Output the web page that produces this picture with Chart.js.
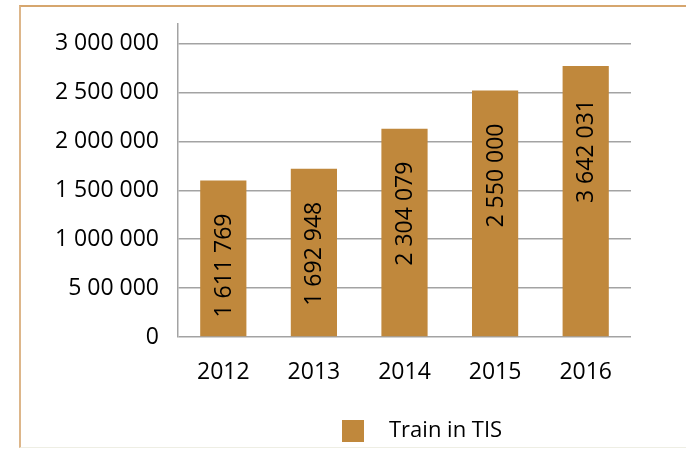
<!DOCTYPE html>
<html>
<head>
<meta charset="utf-8">
<script src="https://cdn.jsdelivr.net/npm/chart.js@4/dist/chart.umd.min.js"></script>
<style>
  html, body { margin: 0; padding: 0; background: #fff; }
  #wrap { position: relative; width: 686px; height: 449px; overflow: hidden; }
  #frame {
    position: absolute; left: 19px; top: 5px; width: 700px; height: 443px;
    box-sizing: border-box;
    border-top: 2px solid #D6A66E;
    border-left: 2px solid #DDB68A;
    border-bottom: 1px solid #EEEEE4;
  }
  #chart { position: absolute; left: 0; top: 0; }
</style>
</head>
<body>
<div id="wrap">
  <div id="frame"></div>
  <canvas id="chart" width="686" height="449"></canvas>
</div>
<script>
const years = ['2012', '2013', '2014', '2015', '2016'];
// bar heights as drawn in the picture
const barValues = [1600000, 1720000, 2130000, 2520000, 2770000];
// text printed inside the bars
const barLabels = ['1 611 769', '1 692 948', '2 304 079', '2 550 000', '3 642 031'];
const tickValues = [0, 500000, 1000000, 1500000, 2000000, 2500000, 3000000];
const tickLabels = ['0', '5 00 000', '1 000 000', '1 500 000', '2 000 000', '2 500 000', '3 000 000'];
const seriesName = 'Train in TIS';
const barColor = '#C0883C';

const FONT = '"Open Sans", "Noto Sans", sans-serif';
const FSIZE = 23;
const gridColor = '#A3A3A3';

// rotated value text inside each bar
const barText = {
    id: 'barText',
    afterDatasetsDraw(chart) {
        const ctx = chart.ctx;
        const meta = chart.getDatasetMeta(0);
        ctx.save();
        ctx.fillStyle = '#000';
        ctx.font = FSIZE + 'px ' + FONT;
        ctx.textAlign = 'right';
        ctx.textBaseline = 'middle';
        meta.data.forEach((bar, i) => {
            ctx.save();
            ctx.translate(bar.x + 1, bar.y + 33);
            ctx.rotate(-Math.PI / 2);
            ctx.fillText(barLabels[i], 0, 0);
            ctx.restore();
        });
        ctx.restore();
    }
};

// legend sits off-centre in the original, so draw it by hand
const sideLegend = {
    id: 'sideLegend',
    afterDraw(chart) {
        const ctx = chart.ctx;
        const ds = chart.data.datasets[0];
        const x = chart.chartArea.left + 164;
        const y = chart.chartArea.bottom + 83;
        ctx.save();
        ctx.fillStyle = ds.backgroundColor;
        ctx.fillRect(x, y, 22, 22);
        ctx.fillStyle = '#000';
        ctx.font = '22px ' + FONT;
        ctx.textAlign = 'left';
        ctx.textBaseline = 'middle';
        ctx.fillText(ds.label, x + 47, y + 11);
        ctx.restore();
    }
};

const ctx = document.getElementById('chart').getContext('2d');
const chart = new Chart(ctx, {
    type: 'bar',
    data: {
        labels: years,
        datasets: [{
            label: seriesName,
            data: barValues,
            backgroundColor: barColor,
            categoryPercentage: 1,
            barPercentage: 0.51
        }]
    },
    options: {
        responsive: false,
        animation: false,
        layout: { padding: { left: 0, right: 55, top: 24, bottom: 0 } },
        plugins: {
            legend: { display: false },
            tooltip: { enabled: false }
        },
        scales: {
            x: {
                grid: { display: false },
                border: { display: false },
                ticks: {
                    color: '#000',
                    font: { family: FONT, size: FSIZE },
                    padding: 14
                },
                afterFit: s => { s.height = 112; }
            },
            y: {
                min: 0,
                max: 3200000,
                afterBuildTicks: s => { s.ticks = tickValues.map(v => ({ value: v })); },
                afterFit: s => { s.width = 178; },
                // invisible tick marks give the gap between labels and axis
                grid: { color: gridColor, lineWidth: 1.5, drawTicks: true, tickLength: 19, tickColor: 'rgba(0,0,0,0)' },
                border: { display: true, color: gridColor, width: 1.5 },
                ticks: {
                    color: '#000',
                    font: { family: FONT, size: FSIZE },
                    padding: 0,
                    callback: v => {
                        const i = tickValues.indexOf(v);
                        return i >= 0 ? tickLabels[i] : '';
                    }
                }
            }
        }
    },
    plugins: [barText, sideLegend]
});
</script>
</body>
</html>
